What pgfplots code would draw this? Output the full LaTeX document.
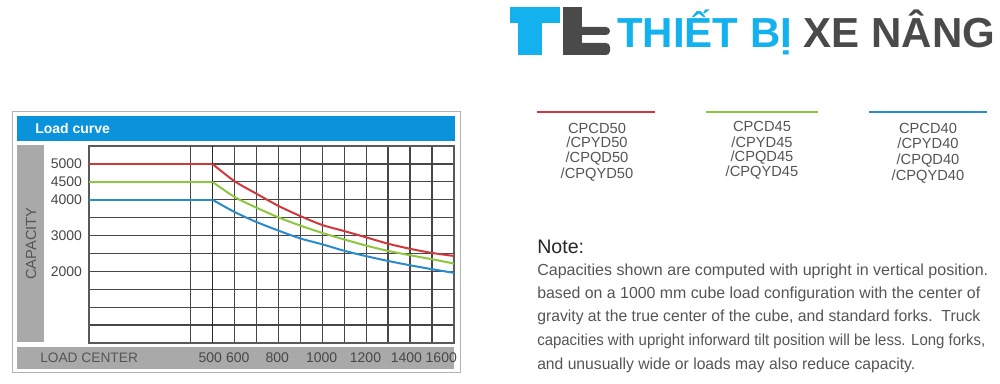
\documentclass[border=0pt]{standalone}
\usepackage{pgfplots}
\pgfplotsset{compat=1.18}
\usepackage{fontspec}
\setmainfont{Liberation Sans}
\definecolor{barblue}{HTML}{0A93DB}
\definecolor{barg}{HTML}{A9A9A9}
\definecolor{txtg}{HTML}{555555}
\definecolor{cred}{HTML}{D0393B}
\definecolor{cgreen}{HTML}{8DC63F}
\definecolor{cblue}{HTML}{2A8BCB}
\definecolor{logoblue}{HTML}{13B1EE}
\definecolor{logodark}{HTML}{4A4A4A}
\newcommand{\fitline}[2]{\resizebox{#1pt}{\height}{#2}}
\begin{document}
\begin{tikzpicture}
\begin{scope}[x=0.75pt,y=-0.75pt]
\path[use as bounding box] (0,0) rectangle (1000,384);
% chart frame
\draw[draw=black!30, line width=0.75pt] (12,112) rectangle (460,373);
\fill[barblue] (17,116) rectangle (455,141);
\node[anchor=west, text=white, inner sep=0pt, font=\bfseries\fontsize{10.5}{12}\selectfont] at (35,128.5) {Load curve};
\fill[barg] (17,145) rectangle (44,342);
\node[rotate=90, text=txtg, inner sep=0pt, font=\fontsize{11}{13}\selectfont] at (31,243.5) {CAPACITY};
\fill[barg] (17,347) rectangle (454,369);
\node[anchor=base west, text=txtg, inner sep=0pt, font=\fontsize{10.3}{12}\selectfont] at (40,363) {LOAD CENTER};
% logo
\fill[logoblue] (510,7) rectangle (560,23);
\fill[logoblue] (518,20) rectangle (542,55);
\fill[logodark] (563,7) rectangle (582,55);
\fill[logodark, rounded corners=3pt] (575,27) rectangle (610,35);
\fill[logodark, rounded corners=3pt] (575,43) rectangle (610,55);
\node[anchor=base west, inner sep=0pt, font=\bfseries\fontsize{31.5}{36}\selectfont] at (617,48) {\textcolor{logoblue}{THIẾT BỊ} \textcolor{logodark}{XE NÂNG}};
% legend
\draw[cred, line width=1.5pt] (537,112) -- (655,112);
\draw[cgreen, line width=1.5pt] (706,112) -- (818,112);
\draw[cblue, line width=1.5pt] (869,112) -- (987,112);
\begin{scope}[every node/.style={anchor=base, inner sep=0pt, text=txtg, font=\fontsize{11}{13}\selectfont}]
\node at (597,134) {CPCD50};
\node at (597,147.5) {/CPYD50};
\node at (597,163) {/CPQD50};
\node at (597,179) {/CPQYD50};
\node at (762,131.5) {CPCD45};
\node at (762,147.5) {/CPYD45};
\node at (762,162) {/CPQD45};
\node at (762,176.5) {/CPQYD45};
\node at (928,134) {CPCD40};
\node at (928,149) {/CPYD40};
\node at (928,164.5) {/CPQD40};
\node at (928,180.5) {/CPQYD40};
\end{scope}
% note
\node[anchor=base west, inner sep=0pt, text=black!85, font=\fontsize{14.7}{17}\selectfont] at (537,253.3) {Note:};
\begin{scope}[every node/.style={anchor=base west, inner sep=0pt, text=txtg, font=\fontsize{12}{14}\selectfont}]
\node at (537,275.5) {\fitline{338.25}{Capacities shown are computed with upright in vertical position.}};
\node at (537,298.5) {\fitline{332.25}{based on a 1000 mm cube load configuration with the center of}};
\node at (537,322) {\fitline{332.25}{gravity at the true center of the cube, and standard forks.\ \ Truck}};
\node at (537,346) {\fitline{336}{capacities with upright inforward tilt position will be less. Long forks,}};
\node at (537,370) {\fitline{283.5}{and unusually wide or loads may also reduce capacity.}};
\end{scope}
\end{scope}
\begin{axis}[
  at={(66.75pt,-257.25pt)}, anchor=south west,
  scale only axis, width=273.75pt, height=147.75pt,
  xmin=-62, xmax=1600, ymin=0, ymax=5500,
  axis line style={draw=black!65, line width=0.8pt},
  xtick={490,615,795,997,1197,1383,1542},
  xticklabels={500,600,800,1000,1200,1400,1600},
  ytick={2000,3000,4000,4500,5000},
  yticklabels={2000,3000,4000,4500,5000},
  minor xtick={400,500,...,1500},
  minor ytick={500,1000,...,5000},
  grid=minor,
  minor grid style={draw=black!72, line width=0.95pt},
  major tick length=0pt, minor tick length=0pt,
  tick style={draw=none},
  ticklabel style={font=\fontsize{10.5}{12}\selectfont, text=black!72},
  /pgf/number format/assume math mode=true,
  xticklabel style={anchor=base, yshift=-15pt},
  yticklabel style={xshift=-1.75pt},
]
\draw[black!85, line width=1.25pt] (axis cs:500,0) -- (axis cs:500,5500);
\addplot[cred, line width=1.5pt, no markers] coordinates {(-62,5000)(500,5000)};
\addplot[cred, line width=1.5pt, no markers, smooth] coordinates {(500,5000)(600,4520)(700,4170)(800,3830)(900,3545)(1000,3295)(1100,3125)(1200,2950)(1300,2772)(1400,2630)(1500,2514)(1600,2430)};
\addplot[cgreen, line width=1.5pt, no markers] coordinates {(-62,4500)(500,4500)};
\addplot[cgreen, line width=1.5pt, no markers, smooth] coordinates {(500,4500)(600,4080)(700,3780)(800,3509)(900,3278)(1000,3074)(1100,2890)(1200,2720)(1300,2570)(1400,2450)(1500,2338)(1600,2218)};
\addplot[cblue, line width=1.5pt, no markers] coordinates {(-62,4000)(500,4000)};
\addplot[cblue, line width=1.5pt, no markers, smooth] coordinates {(500,4000)(600,3660)(700,3380)(800,3140)(900,2920)(1000,2755)(1100,2575)(1200,2425)(1300,2290)(1400,2170)(1500,2060)(1600,1958)};
\end{axis}
\end{tikzpicture}
\end{document}
